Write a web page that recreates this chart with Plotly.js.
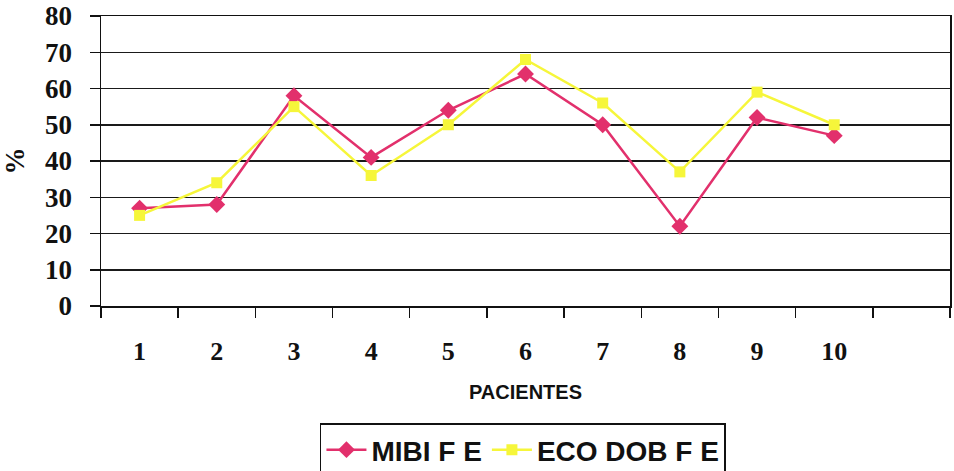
<!DOCTYPE html>
<html>
<head>
<meta charset="utf-8">
<script src="https://cdn.plot.ly/plotly-3.0.1.min.js"></script>
<style>
  html, body { margin: 0; padding: 0; background: #ffffff; }
  #chart { width: 954px; height: 471px; }
</style>
</head>
<body>
<div id="chart"></div>
<script>
// Patients and ejection-fraction readings (%) from the two methods
const pacientes = [1, 2, 3, 4, 5, 6, 7, 8, 9, 10];
const mibiFE   = [27, 28, 58, 41, 54, 64, 50, 22, 52, 47];
const ecoDobFE = [25, 34, 55, 36, 50, 68, 56, 37, 59, 50];
const yTicks = [0, 10, 20, 30, 40, 50, 60, 70, 80];

const serif = "'Liberation Serif', 'Times New Roman', serif";
const sans = "'Liberation Sans', Arial, sans-serif";

const traces = [
  {
    name: 'MIBI F E',
    x: pacientes,
    y: mibiFE,
    type: 'scatter',
    mode: 'lines+markers',
    line: { color: '#E2306C', width: 2.5 },
    marker: { symbol: 'diamond', size: 13, color: '#E2306C' }
  },
  {
    name: 'ECO DOB F E',
    x: pacientes,
    y: ecoDobFE,
    type: 'scatter',
    mode: 'lines+markers',
    line: { color: '#F6F63A', width: 2.5 },
    marker: { symbol: 'square', size: 11, color: '#F6F63A' }
  }
];

const layout = {
  width: 954,
  height: 471,
  margin: { l: 101, r: 4, t: 16, b: 165, autoexpand: false },
  paper_bgcolor: '#ffffff',
  plot_bgcolor: '#ffffff',
  showlegend: true,
  legend: {
    orientation: 'h',
    x: 0.497, xanchor: 'center',
    y: -0.405, yanchor: 'top',
    bordercolor: '#111111',
    borderwidth: 1.5,
    font: { family: sans, size: 28, color: '#111111', weight: 'bold' },
    itemwidth: 40,
    tracegroupgap: 0
  },
  xaxis: {
    range: [0.5, 11.5],
    tickmode: 'array',
    tickvals: pacientes,
    ticktext: pacientes.map(String),
    ticks: '',
    ticklabelstandoff: 21,
    tickfont: { family: serif, size: 26, color: '#111111', weight: 'bold' },
    minor: { tick0: 0.5, dtick: 1, ticks: 'outside', ticklen: 10, tickwidth: 1.5, tickcolor: '#111111', showgrid: false },
    showgrid: false,
    zeroline: false,
    showline: true,
    linecolor: '#111111',
    linewidth: 1.5,
    mirror: true,
    title: { text: 'PACIENTES', font: { family: sans, size: 20, color: '#111111', weight: 'bold' }, standoff: 20 }
  },
  yaxis: {
    range: [0, 80],
    tickmode: 'array',
    tickvals: yTicks,
    ticktext: yTicks.map(String),
    ticks: 'outside',
    ticklen: 10,
    tickwidth: 1.5,
    tickcolor: '#111111',
    ticklabelstandoff: 12,
    tickfont: { family: serif, size: 27, color: '#111111', weight: 'bold' },
    showgrid: true,
    gridcolor: '#1a1a1a',
    gridwidth: 1.5,
    zeroline: false,
    showline: true,
    linecolor: '#111111',
    linewidth: 1.5,
    mirror: true,
    title: { text: '%', font: { family: serif, size: 27, color: '#111111', weight: 'bold' }, standoff: 14 }
  }
};

Plotly.newPlot('chart', traces, layout, { displayModeBar: false, staticPlot: true });
</script>
</body>
</html>
